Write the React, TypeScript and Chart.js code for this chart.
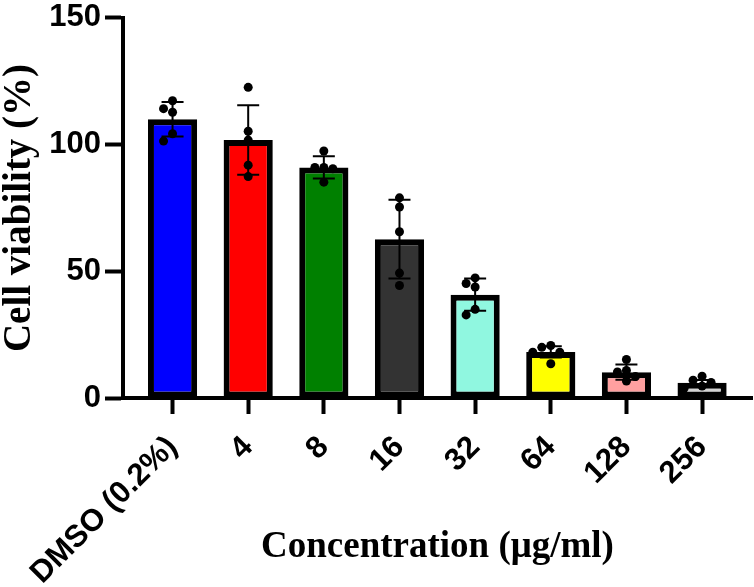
import { Chart, registerables } from 'chart.js';
import { useEffect, useRef } from 'react';

Chart.register(...registerables);

const categories = ['DMSO (0.2%)', '4', '8', '16', '32', '64', '128', '256'];
const means = [110, 101.8, 91, 62.7, 40.8, 18.2, 10.2, 6.0];
const sds = [6.8, 13.7, 4.4, 15.5, 6.4, 2.2, 3.0, 1.1];
const replicates = [
    [117.3, 114.2, 112.8, 104.3, 101.4],
    [122.6, 105.3, 101.8, 91.9, 87.4],
    [97.5, 91, 91, 90.5, 85.2],
    [79, 75.4, 65.6, 49.3, 44.4],
    [47.4, 45.2, 43.8, 35, 32.8],
    [20.7, 20, 18.1, 18.1, 13.5],
    [15.2, 10.9, 10.3, 8.5, 6.7],
    [8.6, 7, 6.1, 4.7, 3.8]
];
const barColors = ['#0000ff', '#ff0000', '#008000', '#333333', '#90f7e0', '#ffff00', '#ffa0a0', '#d3d3d3'];
const yTicks = [0, 50, 100, 150];

const SANS = '"Liberation Sans", Arial, sans-serif';
const SERIF = '"Liberation Serif", "Times New Roman", serif';

// error bars (mean +/- SD) and the replicate dots, spread out like a beeswarm
const dotsAndErrors = {
    id: 'dotsAndErrors',
    afterDatasetsDraw(chart: Chart) {
        const { ctx } = chart;
        const x = chart.scales.x;
        const y = chart.scales.y;
        const cap = 11;
        const r = 4.5;
        const step = 9;
        const minDist = 8.8;

        ctx.save();
        ctx.strokeStyle = '#000';
        ctx.fillStyle = '#000';
        ctx.lineWidth = 2;

        means.forEach((m, i) => {
            const cx = x.getPixelForValue(i);
            const top = y.getPixelForValue(m + sds[i]);
            const bot = y.getPixelForValue(m - sds[i]);
            ctx.beginPath();
            ctx.moveTo(cx, top);
            ctx.lineTo(cx, bot);
            ctx.moveTo(cx - cap, top);
            ctx.lineTo(cx + cap, top);
            ctx.moveTo(cx - cap, bot);
            ctx.lineTo(cx + cap, bot);
            ctx.stroke();
        });

        replicates.forEach((vals, i) => {
            const cx = x.getPixelForValue(i);
            const placed: { px: number, py: number }[] = [];
            [...vals].sort((a, b) => b - a).forEach(v => {
                const py = y.getPixelForValue(v);
                let k = 0;
                let dx = 0;
                for (;;) {
                    dx = k === 0 ? 0 : (k % 2 === 1 ? -1 : 1) * Math.ceil(k / 2) * step;
                    const px = cx + dx;
                    if (placed.every(p => Math.hypot(p.px - px, p.py - py) >= minDist)) break;
                    k++;
                }
                placed.push({ px: cx + dx, py });
            });
            placed.forEach(p => {
                ctx.beginPath();
                ctx.arc(p.px, p.py, r, 0, Math.PI * 2);
                ctx.fill();
            });
        });
        ctx.restore();
    }
};

function ViabilityChart() {
    const canvasRef = useRef<HTMLCanvasElement>(null);
    const chartRef = useRef<Chart | null>(null);

    useEffect(() => {
        if (!canvasRef.current) return;
        const ctx = canvasRef.current.getContext('2d');
        if (!ctx) return;

        if (chartRef.current) chartRef.current.destroy();

        chartRef.current = new Chart(ctx, {
            type: 'bar',
            data: {
                datasets: [{
                    data: means.map((m, i) => ({ x: i, y: m })),
                    backgroundColor: barColors,
                    borderColor: '#000',
                    borderWidth: 6,
                    borderSkipped: false,
                    categoryPercentage: 1,
                    barPercentage: 0.65
                }]
            },
            options: {
                animation: false,
                responsive: true,
                maintainAspectRatio: false,
                layout: { padding: { top: 14, right: 2, left: 0, bottom: 0 } },
                plugins: {
                    legend: { display: false },
                    tooltip: { enabled: false }
                },
                scales: {
                    x: {
                        type: 'linear',
                        min: -0.655,
                        max: 7.66,
                        offset: false,
                        afterBuildTicks: (s: any) => {
                            s.ticks = categories.map((_, i) => ({ value: i }));
                        },
                        afterFit: (s: any) => { s.height = 189; },
                        grid: {
                            offset: false,
                            drawOnChartArea: false,
                            drawTicks: true,
                            tickLength: 16,
                            tickWidth: 4,
                            tickColor: '#000'
                        },
                        border: { display: true, color: '#000', width: 4 },
                        ticks: {
                            autoSkip: false,
                            minRotation: 45,
                            maxRotation: 45,
                            padding: 15,
                            color: '#000',
                            font: { family: SANS, size: 31, weight: 'bold' },
                            callback: (v: any) => categories[v as number] ?? ''
                        },
                        title: {
                            display: true,
                            text: 'Concentration (μg/ml)',
                            color: '#000',
                            padding: { top: 0, bottom: 21 },
                            font: { family: SERIF, size: 37, weight: 'bold', lineHeight: 1 }
                        }
                    },
                    y: {
                        min: 0,
                        max: 150,
                        afterBuildTicks: (s: any) => {
                            s.ticks = yTicks.map(v => ({ value: v }));
                        },
                        afterFit: (s: any) => { s.width = 123; },
                        grid: {
                            drawOnChartArea: false,
                            drawTicks: true,
                            tickLength: 18,
                            tickWidth: 4,
                            tickColor: '#000'
                        },
                        border: { display: true, color: '#000', width: 4 },
                        ticks: {
                            padding: 4,
                            color: '#000',
                            font: { family: SANS, size: 31, weight: 'bold', lineHeight: 0.9 }
                        },
                        title: {
                            display: true,
                            text: 'Cell viability (%)',
                            color: '#000',
                            padding: 0,
                            font: { family: SERIF, size: 39, weight: 'bold', lineHeight: 1 }
                        }
                    }
                }
            },
            plugins: [dotsAndErrors]
        });

        return () => {
            if (chartRef.current) {
                chartRef.current.destroy();
                chartRef.current = null;
            }
        };
    }, []);

    return <canvas ref={canvasRef} />;
}

export default function App() {
    return (
        <div style={{ position: 'fixed', left: 0, top: 0, width: 754, height: 587, background: '#fff' }}>
            <ViabilityChart />
        </div>
    );
}
